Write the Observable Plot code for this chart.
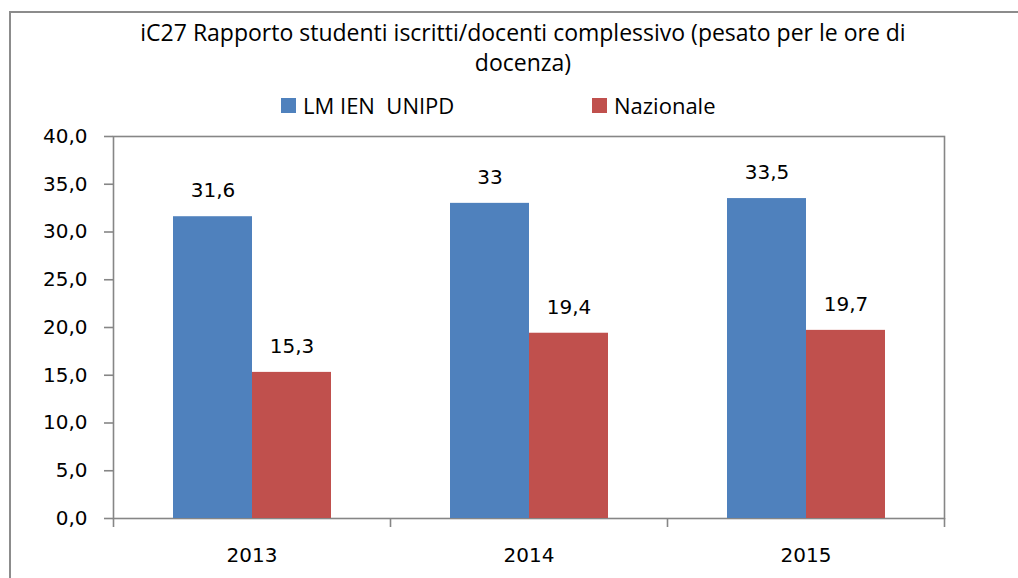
<!DOCTYPE html>
<html>
<head>
<meta charset="utf-8">
<script src="https://cdn.jsdelivr.net/npm/d3@7"></script>
<script src="https://cdn.jsdelivr.net/npm/@observablehq/plot@0.6"></script>
<style>
  html, body { margin: 0; padding: 0; background: #fff; overflow: hidden; }
  body { width: 1018px; height: 578px; position: relative; }
  #border { position: absolute; left: 9px; top: 11px; width: 1100px; height: 640px;
            border-top: 2px solid #8c8c8c; border-left: 2px solid #8c8c8c; box-sizing: border-box; }
  #title { position: absolute; left: 0px; width: 1046px; top: 17px; text-align: center;
           font-family: "Open Sans", sans-serif; font-size: 23px; line-height: 30px; color: #000; }
  .leg { position: absolute; top: 92px; font-family: "Open Sans", sans-serif; font-size: 22px;
         line-height: 26px; color: #000; display: flex; align-items: center; white-space: pre; }
  .sw { display: inline-block; width: 15px; height: 15px; margin-right: 7px; }
  .layer { position: absolute; left: 0; top: 120px; }
</style>
</head>
<body>
<div id="border"></div>
<div id="title"></div>
<div id="legend"></div>
<div id="chartA" class="layer"></div>
<div id="chartB" class="layer"></div>
<script>
const titleLines = ["iC27 Rapporto studenti iscritti/docenti complessivo (pesato per le ore di", "docenza)"];
const years = ["2013", "2014", "2015"];
const series = ["LM IEN  UNIPD", "Nazionale"];
const colors = ["#4F81BD", "#C0504D"];
const lmValues = [31.6, 33, 33.5];
const nazValues = [15.3, 19.4, 19.7];
const yTicks = [0, 5, 10, 15, 20, 25, 30, 35, 40];

const rows = [];
years.forEach((yr, i) => {
  rows.push({year: yr, series: series[0], value: lmValues[i]});
  rows.push({year: yr, series: series[1], value: nazValues[i]});
});

document.getElementById("title").innerHTML = titleLines.join("<br>");
const legend = document.getElementById("legend");
const legLeft = [281, 592];
series.forEach((s, i) => {
  const d = document.createElement("div");
  d.className = "leg";
  d.style.left = legLeft[i] + "px";
  d.innerHTML = `<span class="sw" style="background:${colors[i]}"></span><span>${s}</span>`;
  legend.appendChild(d);
});

const W = 1018, H = 458;
const margins = {marginTop: 16, marginLeft: 113, marginRight: 74, marginBottom: 60};
const font = "DejaVu Sans, sans-serif";
const fmt = d => d.toFixed(1).replace(".", ",");
const lab = d => String(d).replace(".", ",");
const gray = "#868686";

// Layer A: plot-area frame, y axis, category boundary ticks
const plotA = Plot.plot({
  width: W, height: H, ...margins,
  style: {background: "transparent", fontFamily: font, fontSize: "20px", color: "#000"},
  x: {domain: [0, years.length]},
  y: {domain: [0, 40]},
  marks: [
    Plot.frame({stroke: gray, strokeWidth: 1.6}),
    Plot.axisY({ticks: yTicks, tickFormat: fmt, tickSize: 9, tickPadding: 17, label: null,
                stroke: gray, strokeWidth: 1.6, fill: "#000", fontSize: 20}),
    Plot.axisX({ticks: d3.range(years.length + 1), tickFormat: () => "", tickSize: 9, label: null,
                stroke: gray, strokeWidth: 1.6})
  ]
});
document.getElementById("chartA").appendChild(plotA);

// Layer B: grouped bars, value labels, year labels
const plotB = Plot.plot({
  width: W, height: H, ...margins,
  style: {background: "transparent", fontFamily: font, fontSize: "20px", color: "#000"},
  fx: {domain: years, padding: 0, label: null},
  x: {domain: series, paddingInner: 0, paddingOuter: 0.75, axis: null},
  y: {domain: [0, 40], axis: null},
  color: {domain: series, range: colors},
  marks: [
    Plot.barY(rows, {fx: "year", x: "series", y: "value", fill: "series"}),
    Plot.text(rows, {fx: "year", x: "series", y: "value", text: d => lab(d.value),
                     dy: -26, fontSize: 20, fill: "#000"}),
    Plot.axisFx({anchor: "bottom", tickSize: 0, tickPadding: 29, label: null, fontSize: 20, fill: "#000"})
  ]
});
document.getElementById("chartB").appendChild(plotB);
</script>
</body>
</html>
